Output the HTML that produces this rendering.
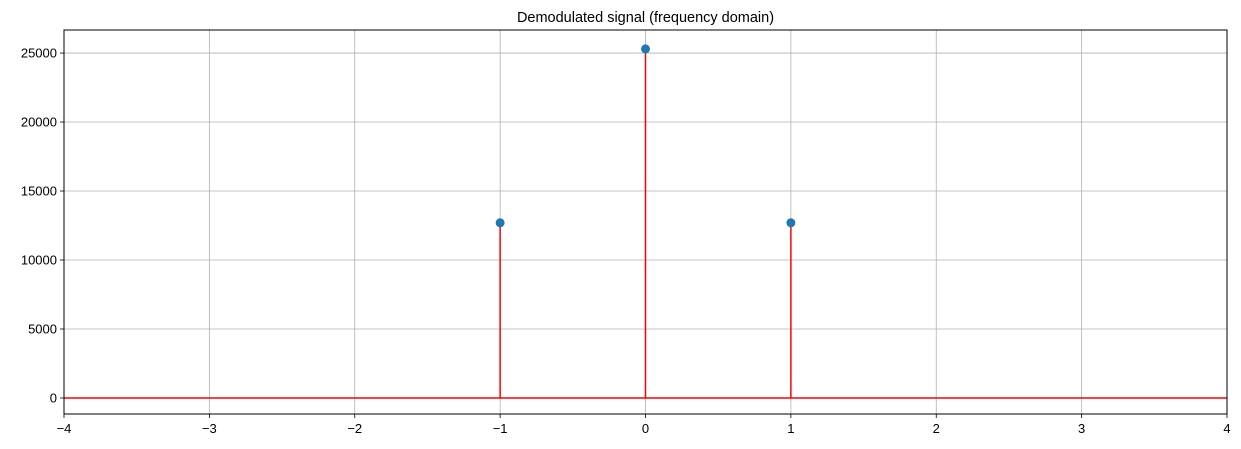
<!DOCTYPE html>
<html><head><meta charset="utf-8"><style>
html,body{margin:0;padding:0;background:#fff;}
svg{display:block;font-family:"Liberation Sans","DejaVu Sans",sans-serif;}
</style></head><body>
<svg id="chart" width="1241" height="449">
<text x="645.5" y="22" text-anchor="middle" font-size="14.5" fill="#000">Demodulated signal (frequency domain)</text>
<g id="grid"></g>
<g id="marks"></g>
<rect x="64" y="30" width="1163" height="384" fill="none" stroke="#000" stroke-width="1"/>
<g id="ticks"></g>
</svg>
<script>
const freqs = [-1, 0, 1];
const magnitudes = [12700, 25300, 12700];
const xTicks = [-4, -3, -2, -1, 0, 1, 2, 3, 4];
const yTicks = [0, 5000, 10000, 15000, 20000, 25000];
const xMin=-4,xMax=4,yMin=-1160,yMax=26670;
const L=64,R=1227,T=30,B=414;
const sx=v=>L+(v-xMin)/(xMax-xMin)*(R-L);
const sy=v=>B-(v-yMin)/(yMax-yMin)*(B-T);
const NS="http://www.w3.org/2000/svg";
function mk(tag,attrs,parent){const e=document.createElementNS(NS,tag);for(const k in attrs)e.setAttribute(k,attrs[k]);parent.appendChild(e);return e;}
const grid=document.getElementById('grid'),ticks=document.getElementById('ticks'),marks=document.getElementById('marks');
xTicks.forEach(t=>{
  const x=sx(t);
  const g=mk('line',{x1:x,x2:x,y1:T,y2:B,stroke:'#b0b0b0','stroke-width':0.8},grid);
  
  
  const tk=mk('line',{x1:x,x2:x,y1:B,y2:B+4,stroke:'#000','stroke-width':0.8},ticks);
  
  
  const lb=mk('text',{x:x,y:B+19,'text-anchor':'middle','font-size':13},ticks);
  lb.textContent=(t<0?'\u2212'+(-t):String(t));
  
  
});
yTicks.forEach(t=>{
  const y=sy(t);
  const g=mk('line',{x1:L,x2:R,y1:y,y2:y,stroke:'#b0b0b0','stroke-width':0.8},grid);
  
  
  const tk=mk('line',{x1:L-4,x2:L,y1:y,y2:y,stroke:'#000','stroke-width':0.8},ticks);
  
  
  const lb=mk('text',{x:L-7,y:y+4.5,'text-anchor':'end','font-size':13},ticks);
  lb.textContent=String(t);
  
  
});
const base=mk('line',{x1:L,x2:R,y1:sy(0),y2:sy(0),stroke:'#ff0000','stroke-width':1.5},marks);


freqs.forEach((f,i)=>{
  const x=sx(f);
  const s=mk('line',{x1:x,x2:x,y1:sy(0),y2:sy(magnitudes[i]),stroke:'#ff0000','stroke-width':1.5},marks);
  
  
  const c=mk('circle',{cx:x,cy:sy(magnitudes[i]),r:4.5,fill:'#1f77b4'},marks);
  
  
});
</script>
</body></html>
